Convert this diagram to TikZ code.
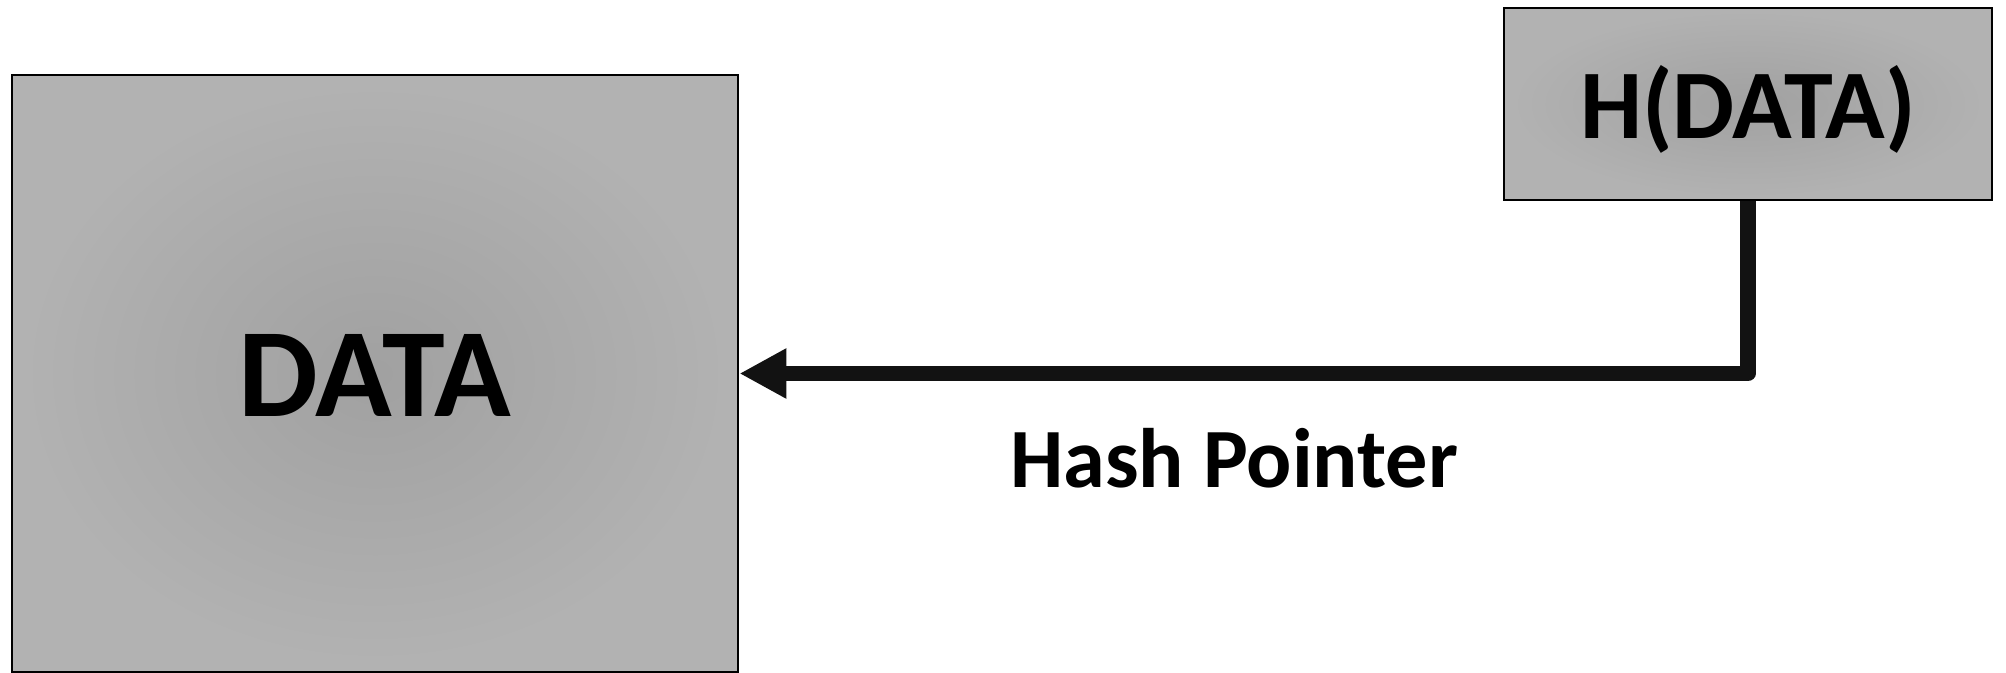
\documentclass[tikz,border=0pt]{standalone}
\usepackage{fontspec}
\setmainfont{Carlito}
\usetikzlibrary{arrows.meta}
\tikzset{
	block/.style={draw=black, line width=0.8pt, inner color=black!37, outer color=black!30, font=\bfseries, inner sep=0pt, text depth=0pt},
	ptr/.style={line width=4.3pt, color=black!93, line join=round, -{Triangle[length=4.7mm, width=4.7mm, sharp]}},
	lbl/.style={font=\bfseries\fontsize{24}{28}\selectfont}
}

\begin{document}
\begin{tikzpicture}
			%%%%% START %%%%%
			
			\useasboundingbox (0, 0) rectangle (20.06, -6.73);
			
			\node[block, minimum width=7.26cm, minimum height=5.97cm, text height=24.7pt, font=\bfseries\fontsize{36}{40}\selectfont] (data) at (3.75, -3.735) {DATA};
			\node[block, minimum width=4.88cm, minimum height=1.92cm, text height=19.4pt, font=\bfseries\fontsize{28}{32}\selectfont] (hash) at (17.48, -1.04) {H(DATA)};
			
			\draw[ptr] (hash.south) |- (data.east);
			
			\node[lbl] (hp) at (12.34, -4.58) {Hash Pointer};
			
			%%%%% END %%%%%
		\end{tikzpicture}
\end{document}
